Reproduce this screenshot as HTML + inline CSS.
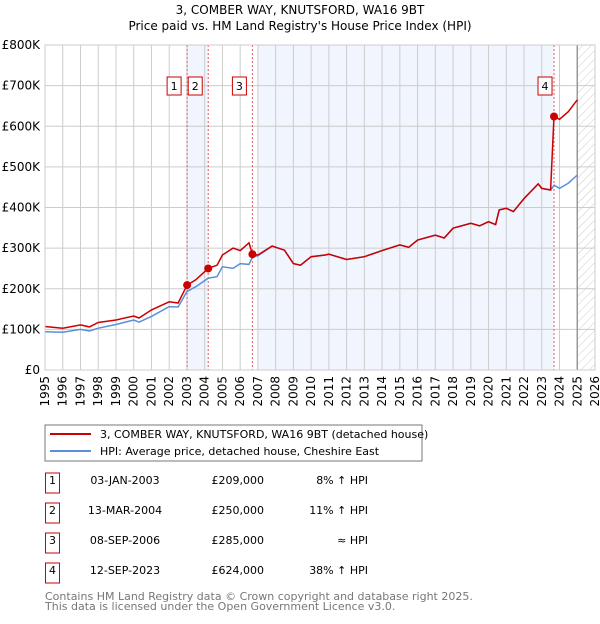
<!DOCTYPE html>
<html><head><meta charset="utf-8"><style>
body{margin:0;background:#fff;font-family:"DejaVu Sans","Liberation Sans",sans-serif}
svg text{font-family:"DejaVu Sans","Liberation Sans",sans-serif}
</style></head><body>
<svg id="c" width="600" height="620" xmlns="http://www.w3.org/2000/svg">
<defs><pattern id="hatch" width="6" height="6" patternUnits="userSpaceOnUse" patternTransform="rotate(45)"><line x1="0" y1="0" x2="0" y2="6" stroke="#ccc" stroke-width="1"/></pattern></defs>
<text x="300" y="14" text-anchor="middle" font-size="12">3, COMBER WAY, KNUTSFORD, WA16 9BT</text>
<text x="300" y="30" text-anchor="middle" font-size="12">Price paid vs. HM Land Registry's House Price Index (HPI)</text>
<g id="plot"></g>
<rect x="45" y="425" width="377" height="36" fill="#fff" stroke="#777"/>
<line x1="50" y1="434" x2="91" y2="434" stroke="#cc0000" stroke-width="2"/>
<text x="100" y="438" font-size="11">3, COMBER WAY, KNUTSFORD, WA16 9BT (detached house)</text>
<line x1="50" y1="451" x2="91" y2="451" stroke="#5b8fd6" stroke-width="2"/>
<text x="100" y="455" font-size="11">HPI: Average price, detached house, Cheshire East</text>
<g id="table"></g>
<text x="45" y="600" font-size="11" fill="#777">Contains HM Land Registry data © Crown copyright and database right 2025.</text>
<text x="45" y="610" font-size="11" fill="#777">This data is licensed under the Open Government Licence v3.0.</text>
</svg>
<script>
const years=[1995,1996,1997,1998,1999,2000,2001,2002,2003,2004,2005,2006,2007,2008,2009,2010,2011,2012,2013,2014,2015,2016,2017,2018,2019,2020,2021,2022,2023,2024,2025,2026];
const yTicks=[0,100000,200000,300000,400000,500000,600000,700000,800000];
const yLabels=["£0","£100K","£200K","£300K","£400K","£500K","£600K","£700K","£800K"];
const hpiT=[1995,1996,1997,1997.5,1998,1999,2000,2000.3,2001,2002,2002.5,2003,2003.5,2004.2,2004.7,2005,2005.6,2006,2006.5,2006.7,2007,2007.8,2008.5,2009,2009.4,2010,2010.8,2011,2012,2013,2014,2015,2015.5,2016,2017,2017.5,2018,2019,2019.5,2020,2020.4,2020.6,2021,2021.4,2022,2022.8,2023,2023.5,2023.7,2024,2024.5,2025];
const hpiV=[94,93,100,96,103,112,123,118,132,156,155,193,205,226,230,254,250,262,260,279,281,305,295,262,258,279,283,285,272,279,294,308,302,320,332,325,349,361,355,365,358,394,398,390,422,458,447,443,455,447,460,480];
const propT=[1995,1996,1997,1997.5,1998,1999,2000,2000.3,2001,2002,2002.5,2003.01,2003.5,2004.2,2004.7,2005,2005.6,2006,2006.5,2006.69,2007,2007.8,2008.5,2009,2009.4,2010,2010.8,2011,2012,2013,2014,2015,2015.5,2016,2017,2017.5,2018,2019,2019.5,2020,2020.4,2020.6,2021,2021.4,2022,2022.8,2023,2023.5,2023.69,2024,2024.5,2025];
const propV=[107,103,111,106,117,123,133,128,148,168,165,209,222,250,258,283,300,294,313,285,283,305,295,262,258,279,283,285,272,279,294,308,302,320,332,325,349,361,355,365,358,394,398,390,422,458,447,443,624,617,636,665];
const saleT=[2003.01,2004.2,2006.69,2023.69];
const saleV=[209000,250000,285000,624000];
const saleLabels=["1","2","3","4"];
const saleDates=["03-JAN-2003","13-MAR-2004","08-SEP-2006","12-SEP-2023"];
const salePrices=["£209,000","£250,000","£285,000","£624,000"];
const saleHpi=["8% ↑ HPI","11% ↑ HPI","≈ HPI","38% ↑ HPI"];
const NS="http://www.w3.org/2000/svg";
const X0=45,X1=595,Y0=370,Y1=45;
const xs=t=>X0+(t-1995)/31*(X1-X0);
const ys=v=>Y0-v/800000*(Y0-Y1);
function mk(tag,attrs,parent,txt){const e=document.createElementNS(NS,tag);for(const k in attrs)e.setAttribute(k,attrs[k]);if(txt!==undefined)e.textContent=txt;parent.appendChild(e);return e;}
const g=document.getElementById('plot');
let e;
e=mk('rect',{x:xs(2003.01),y:Y1,width:xs(2004.2)-xs(2003.01),height:Y0-Y1,fill:'#eef3fc',opacity:0.8},g);


e=mk('rect',{x:xs(2007),y:Y1,width:xs(2023.69)-xs(2007),height:Y0-Y1,fill:'#eef3fc',opacity:0.8},g);


e=mk('rect',{x:xs(2025),y:Y1,width:X1-xs(2025),height:Y0-Y1,fill:'url(#hatch)'},g);


years.forEach(y=>{
 e=mk('line',{x1:xs(y),x2:xs(y),y1:Y1,y2:Y0,stroke:'#ccc','stroke-width':1},g);
 
 
 e=mk('text',{x:0,y:0,'font-size':12,'text-anchor':'end',transform:`translate(${xs(y)+4},${Y0+6}) rotate(-90)`},g,String(y));
 
 
});
yTicks.forEach((v,i)=>{
 e=mk('line',{x1:X0,x2:X1,y1:ys(v),y2:ys(v),stroke:'#ccc','stroke-width':1},g);
 
 
 e=mk('text',{x:X0-5,y:ys(v)+4,'font-size':12,'text-anchor':'end'},g,yLabels[i]);
 
 
});
e=mk('line',{x1:xs(2025),x2:xs(2025),y1:Y1,y2:Y0,stroke:'#999','stroke-width':1.5},g);


saleT.forEach((t,i)=>{
 e=mk('line',{x1:xs(t),x2:xs(t),y1:Y1,y2:Y0,stroke:'#e06060','stroke-width':1,'stroke-dasharray':'2,2'},g);
 
 
});
const pts=(T,V)=>T.map((t,i)=>xs(t).toFixed(1)+','+ys(V[i]*1000).toFixed(1)).join(' ');
e=mk('polyline',{points:pts(hpiT,hpiV),fill:'none',stroke:'#5b8fd6','stroke-width':1.5},g);


e=mk('polyline',{points:pts(propT,propV),fill:'none',stroke:'#cc0000','stroke-width':1.5},g);


saleT.forEach((t,i)=>{
 e=mk('circle',{cx:xs(t),cy:ys(saleV[i]),r:4,fill:'#cc0000'},g);
 
 
 const bx=xs(t)-(i<3?13:9);
 e=mk('rect',{x:bx-7,y:77,width:14,height:18,fill:'#fff',stroke:'#cc0000'},g);
 
 
 e=mk('text',{x:bx,y:90,'font-size':11,'text-anchor':'middle'},g,saleLabels[i]);
 
 
});
e=mk('rect',{x:X0,y:Y1,width:X1-X0,height:Y0-Y1,fill:'none',stroke:'#ccc'},g);


const tb=document.getElementById('table');
saleLabels.forEach((l,i)=>{
 const cy=483+30*i;
 e=mk('rect',{x:45.5,y:cy-10,width:14,height:20,fill:'#fff',stroke:'#cc0000'},tb);
 
 
 e=mk('text',{x:52.5,y:cy+1,'font-size':11,'text-anchor':'middle'},tb,l);
 
 
 e=mk('text',{x:125,y:cy+1,'font-size':11,'text-anchor':'middle'},tb,saleDates[i]);
 
 
 e=mk('text',{x:264,y:cy+1,'font-size':11,'text-anchor':'end'},tb,salePrices[i]);
 
 
 e=mk('text',{x:368,y:cy+1,'font-size':11,'text-anchor':'end'},tb,saleHpi[i]);
 
 
});
</script>
</body></html>
